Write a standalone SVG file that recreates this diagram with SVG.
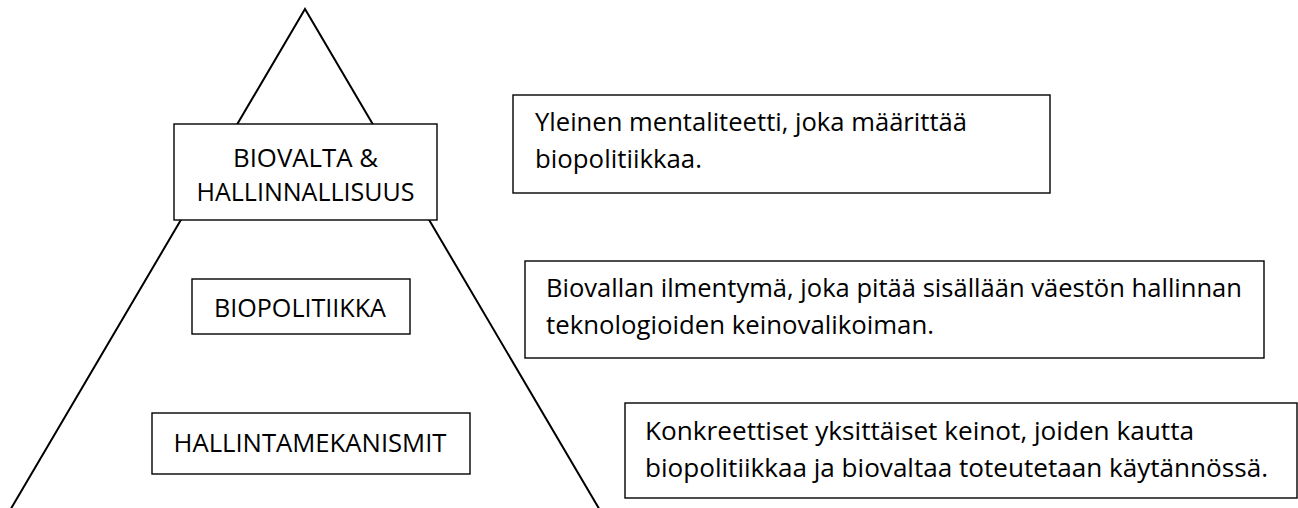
<svg xmlns="http://www.w3.org/2000/svg" width="1298" height="508" viewBox="0 0 1298 508">
<style>
.bx{fill:#fff;stroke:#000;stroke-width:1.4}
.tri{fill:none;stroke:#000;stroke-width:2;stroke-linejoin:miter}
text{font-family:"Open Sans","Noto Sans","Liberation Sans",sans-serif;font-size:26px;fill:#000}
.c{text-anchor:middle}
</style>
<rect width="1298" height="508" fill="#fff"/>
<g id="pyramid">
<polyline class="tri" points="9,512 305,9 601,512"/>
</g>
<g id="node-biovalta">
<rect class="bx" x="174" y="124" width="263" height="96"/>
<text class="c" x="305.5" y="167" textLength="145" lengthAdjust="spacingAndGlyphs">BIOVALTA &amp;</text>
<text class="c" x="305.5" y="201" textLength="218" lengthAdjust="spacingAndGlyphs">HALLINNALLISUUS</text>
</g>
<g id="node-biopolitiikka">
<rect class="bx" x="192" y="279" width="218" height="55"/>
<text class="c" x="300" y="317" textLength="172" lengthAdjust="spacingAndGlyphs">BIOPOLITIIKKA</text>
</g>
<g id="node-hallintamekanismit">
<rect class="bx" x="152" y="413" width="318" height="61"/>
<text class="c" x="310" y="452" textLength="273" lengthAdjust="spacingAndGlyphs">HALLINTAMEKANISMIT</text>
</g>
<g id="desc-1">
<rect class="bx" x="513" y="95" width="537" height="98"/>
<text x="535" y="131" textLength="432" lengthAdjust="spacingAndGlyphs">Yleinen mentaliteetti, joka määrittää</text>
<text x="535" y="168" textLength="167" lengthAdjust="spacingAndGlyphs">biopolitiikkaa.</text>
</g>
<g id="desc-2">
<rect class="bx" x="525" y="261" width="739" height="97"/>
<text x="546" y="297" textLength="696" lengthAdjust="spacingAndGlyphs">Biovallan ilmentymä, joka pitää sisällään väestön hallinnan</text>
<text x="546" y="334" textLength="388" lengthAdjust="spacingAndGlyphs">teknologioiden keinovalikoiman.</text>
</g>
<g id="desc-3">
<rect class="bx" x="625" y="403" width="672" height="95"/>
<text x="645" y="440" textLength="549" lengthAdjust="spacingAndGlyphs">Konkreettiset yksittäiset keinot, joiden kautta</text>
<text x="645" y="477" textLength="623" lengthAdjust="spacingAndGlyphs">biopolitiikkaa ja biovaltaa toteutetaan käytännössä.</text>
</g>
</svg>
